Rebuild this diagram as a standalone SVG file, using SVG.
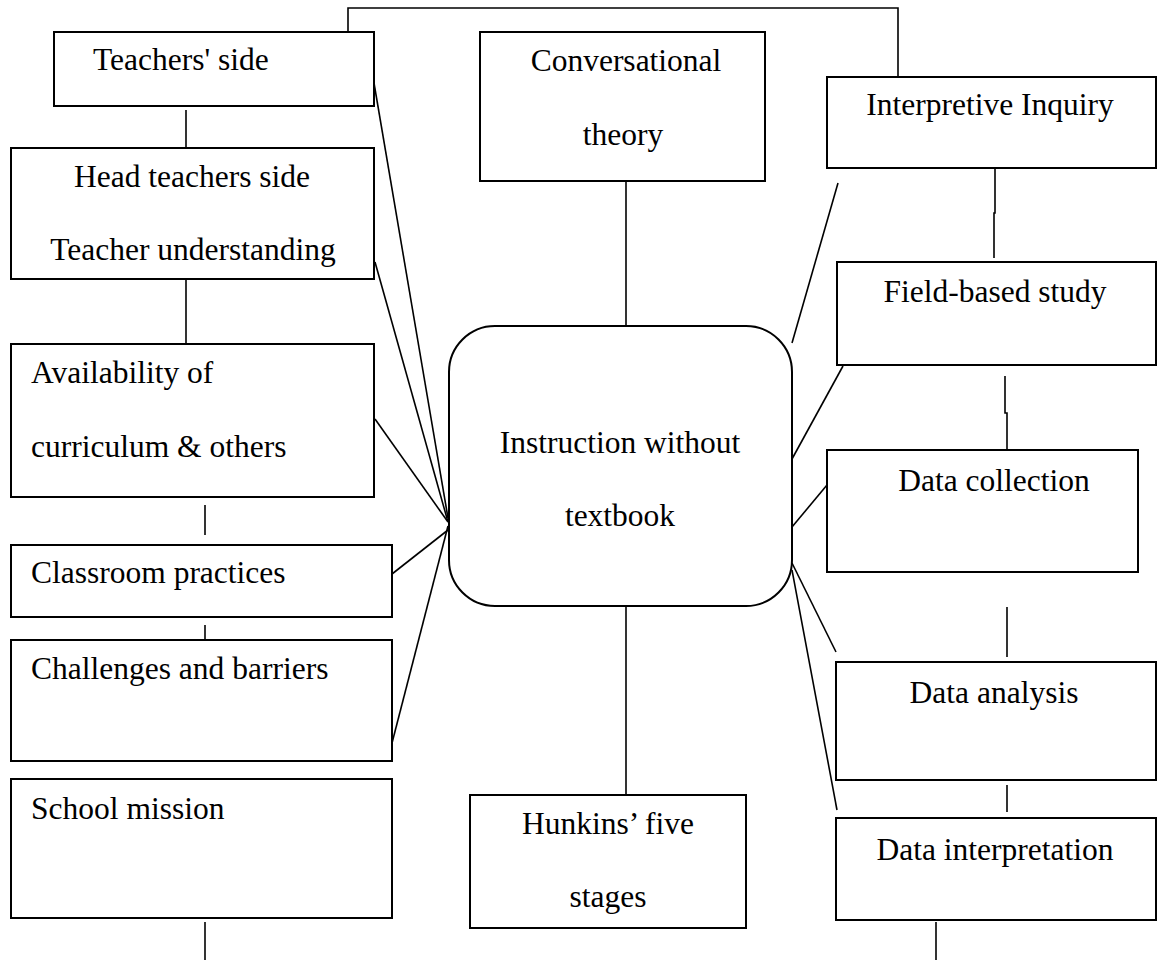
<svg xmlns="http://www.w3.org/2000/svg" width="1158" height="960" viewBox="0 0 1158 960">
<style>
.box{fill:#fff;stroke:#000;stroke-width:2}
.ln{fill:none;stroke:#000;stroke-width:1.6}
text{font-family:"Liberation Serif","Times New Roman",serif;font-size:31.5px;fill:#000}
.c{text-anchor:middle}
</style>
<rect width="1158" height="960" fill="#fff"/>
<g id="connectors">
<polyline class="ln" points="348,32 348,8 898,8 898,77"/>
<line class="ln" x1="186" y1="110" x2="186" y2="148"/>
<line class="ln" x1="186" y1="279" x2="186" y2="344"/>
<line class="ln" x1="205" y1="505" x2="205" y2="535"/>
<line class="ln" x1="205" y1="625" x2="205" y2="640"/>
<line class="ln" x1="205" y1="922" x2="205" y2="960"/>
<line class="ln" x1="626" y1="181" x2="626" y2="326"/>
<line class="ln" x1="626" y1="606" x2="626" y2="795"/>
<polyline class="ln" points="995,168 995,213 994,213 994,258"/>
<polyline class="ln" points="1005,376 1005,413 1007,413 1007,450"/>
<line class="ln" x1="1007" y1="607" x2="1007" y2="657"/>
<line class="ln" x1="1007" y1="785" x2="1007" y2="812"/>
<line class="ln" x1="936" y1="922" x2="936" y2="960"/>
<line class="ln" x1="374" y1="83" x2="448" y2="518"/>
<line class="ln" x1="375" y1="262" x2="448" y2="522"/>
<line class="ln" x1="375" y1="419" x2="448" y2="522"/>
<line class="ln" x1="392" y1="574" x2="448" y2="530"/>
<line class="ln" x1="392" y1="743" x2="448" y2="526"/>
<line class="ln" x1="838" y1="183" x2="792" y2="343"/>
<line class="ln" x1="843" y1="366" x2="792" y2="459"/>
<line class="ln" x1="827" y1="485" x2="792" y2="527"/>
<line class="ln" x1="792" y1="563" x2="836" y2="652"/>
<line class="ln" x1="792" y1="570" x2="837" y2="810"/>
</g>
<g id="teachers-side"><rect class="box" x="54" y="32" width="320" height="74"/><text x="93" y="70">Teachers' side</text></g>
<g id="head-teachers"><rect class="box" x="11" y="148" width="363" height="131"/><text class="c" x="192" y="187">Head teachers side</text><text class="c" x="193" y="260">Teacher understanding</text></g>
<g id="availability"><rect class="box" x="11" y="344" width="363" height="153"/><text x="31" y="383">Availability of</text><text x="31" y="457">curriculum &amp; others</text></g>
<g id="classroom"><rect class="box" x="11" y="545" width="381" height="72"/><text x="31" y="583">Classroom practices</text></g>
<g id="challenges"><rect class="box" x="11" y="640" width="381" height="121"/><text x="31" y="679">Challenges and barriers</text></g>
<g id="school-mission"><rect class="box" x="11" y="779" width="381" height="139"/><text x="31" y="819">School mission</text></g>
<g id="conversational"><rect class="box" x="480" y="32" width="285" height="149"/><text class="c" x="626" y="71">Conversational</text><text class="c" x="623" y="145">theory</text></g>
<g id="center"><rect class="box" x="449" y="326" width="343" height="280" rx="46" ry="46"/><text class="c" x="620" y="453">Instruction without</text><text class="c" x="620" y="526">textbook</text></g>
<g id="hunkins"><rect class="box" x="470" y="795" width="276" height="133"/><text class="c" x="608" y="834">Hunkins’ five</text><text class="c" x="608" y="907">stages</text></g>
<g id="interpretive"><rect class="box" x="827" y="77" width="329" height="91"/><text class="c" x="990" y="115">Interpretive Inquiry</text></g>
<g id="field-based"><rect class="box" x="837" y="262" width="319" height="103"/><text class="c" x="995" y="302">Field-based study</text></g>
<g id="data-collection"><rect class="box" x="827" y="450" width="311" height="122"/><text class="c" x="994" y="491">Data collection</text></g>
<g id="data-analysis"><rect class="box" x="836" y="662" width="320" height="118"/><text class="c" x="994" y="703">Data analysis</text></g>
<g id="data-interpretation"><rect class="box" x="836" y="818" width="320" height="102"/><text class="c" x="995" y="860">Data interpretation</text></g>
</svg>
